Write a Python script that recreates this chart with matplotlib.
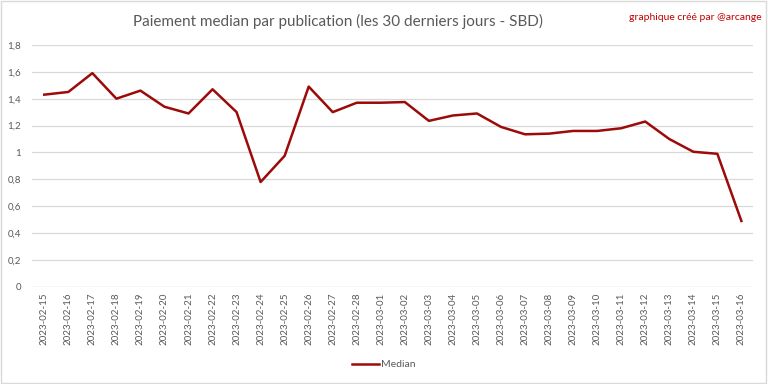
import matplotlib
matplotlib.use('Agg')
import matplotlib.pyplot as plt
from matplotlib.ticker import FuncFormatter

plt.rcParams['font.family'] = ['Lato', 'DejaVu Sans']

dates = [
    "2023-02-15", "2023-02-16", "2023-02-17", "2023-02-18", "2023-02-19",
    "2023-02-20", "2023-02-21", "2023-02-22", "2023-02-23", "2023-02-24",
    "2023-02-25", "2023-02-26", "2023-02-27", "2023-02-28", "2023-03-01",
    "2023-03-02", "2023-03-03", "2023-03-04", "2023-03-05", "2023-03-06",
    "2023-03-07", "2023-03-08", "2023-03-09", "2023-03-10", "2023-03-11",
    "2023-03-12", "2023-03-13", "2023-03-14", "2023-03-15", "2023-03-16",
]
median = [
    1.43, 1.45, 1.59, 1.40, 1.46, 1.34, 1.29, 1.47, 1.30, 0.78,
    0.975, 1.49, 1.30, 1.37, 1.37, 1.375, 1.235, 1.275, 1.29, 1.19,
    1.135, 1.14, 1.16, 1.16, 1.18, 1.23, 1.10, 1.005, 0.99, 0.49,
]
yticks = [0, 0.2, 0.4, 0.6, 0.8, 1.0, 1.2, 1.4, 1.6, 1.8]

gray = '#595959'

fig = plt.figure(figsize=(7.68, 3.84), dpi=100)
ax = fig.add_axes([0.042, 0.253, 0.939, 0.630])

x = range(len(dates))
ax.plot(x, median, color='#9c0a0a', lw=1.8, label='Median', zorder=3)

ax.set_xlim(-0.5, len(dates) - 0.5)
ax.set_ylim(0, 1.8)
ax.set_yticks(yticks)
ax.yaxis.set_major_formatter(FuncFormatter(
    lambda v, p: f"{v:.1f}".replace('.', ',') if abs(v - round(v)) > 1e-9 else str(int(round(v)))))
ax.set_xticks(list(x))
ax.set_xticklabels(dates, rotation=90, fontsize=7, color=gray)
ax.tick_params(axis='y', labelsize=7, colors=gray, length=0, pad=8)
ax.tick_params(axis='x', length=0, pad=4)
ax.grid(axis='y', color='#d9d9d9', lw=0.9)
ax.set_axisbelow(True)
for s in ax.spines.values():
    s.set_visible(False)
ax.axhline(0, color='#d9d9d9', lw=0.9)

fig.text(0.44, 0.945, "Paiement median par publication (les 30 derniers jours - SBD)",
         ha='center', va='center', fontsize=11, color=gray)
fig.text(0.992, 0.955, "graphique créé par @arcange", ha='right', va='center',
         fontsize=7.5, color='#c00000')

fig.legend(loc='center', bbox_to_anchor=(0.5, 0.05), frameon=False, fontsize=7.5,
           labelcolor=gray, handlelength=2.6, handletextpad=0.2)

fig.patches.append(plt.Rectangle((0.001, 0.002), 0.997, 0.996, transform=fig.transFigure,
                                 fill=False, edgecolor='#d9d9d9', lw=1))

fig.savefig('out.png', dpi=100)
